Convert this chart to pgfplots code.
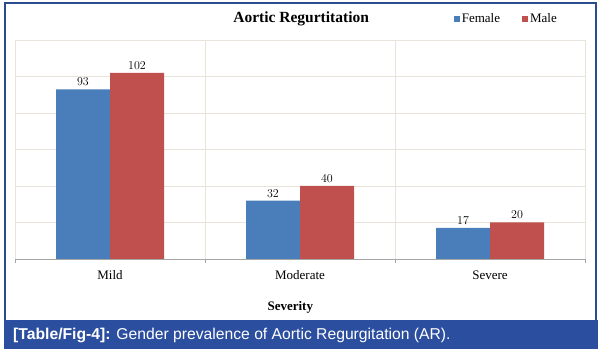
\documentclass[border=0pt]{standalone}
\usepackage{fontspec}
\setmainfont{Liberation Serif}
\setsansfont{Liberation Sans}
\usepackage{pgfplots}
\pgfplotsset{compat=1.18}
\definecolor{fem}{HTML}{4A7EBB}
\definecolor{mal}{HTML}{C0504D}
\definecolor{gridc}{HTML}{E8E4DA}
\definecolor{framec}{HTML}{2B4C8C}
\definecolor{capbar}{HTML}{2C4E9E}
\begin{document}
\begin{tikzpicture}[x=1pt,y=1pt]
\path[use as bounding box] (0,0) rectangle (601,355);
\draw[framec, line width=1.2pt] (5,35) -- (5,352) -- (596,352) -- (596,35);
\fill[capbar] (4,6) rectangle (598,35);
\node[anchor=west, text=white, inner sep=0pt, font=\sffamily\fontsize{15.7}{18}\selectfont] at (13,20) {\textbf{[Table/Fig-4]:} Gender prevalence of Aortic Regurgitation (AR).};
\begin{axis}[at={(15pt,96pt)}, anchor=south west, scale only axis, width=570pt, height=219pt,
  ybar=0pt, bar width=54pt, ymin=0, ymax=120, xmin=-0.5, xmax=2.5,
  xtick={0,1,2}, xticklabels={Mild,Moderate,Severe},
  minor xtick={-0.5,0.5,1.5,2.5}, xminorgrids,
  ytick={0,20,...,120}, yticklabels={}, ymajorgrids,
  axis x line*=bottom, axis y line*=left, y axis line style={draw=none},
  x axis line style={draw=gray!70, -}, axis line style={-},
  major tick length=0pt, minor tick length=4pt, tick align=outside,
  minor tick style={gray!70},
  grid style={gridc, line width=0.6pt},
  minor grid style={gridc, line width=0.6pt},
  ticklabel style={font=\fontsize{13}{15}\selectfont},
  xticklabel style={yshift=-8pt},
  xlabel={Severity},
  xlabel style={font=\bfseries\fontsize{13}{15}\selectfont, at={(axis description cs:0.483,-0.22)}, anchor=center},
  title={Aortic Regurtitation},
  title style={font=\bfseries\fontsize{15.5}{17}\selectfont, at={(axis description cs:0.502,1.07)}, anchor=center},
  nodes near coords,
  every node near coord/.append style={font=\fontsize{12.5}{14}\selectfont, black},
  legend style={at={(axis description cs:0.862,1.096)}, anchor=center, draw=none, fill=none,
    legend columns=2, font=\fontsize{13}{15}\selectfont,
    /tikz/every even column/.append style={column sep=20pt}},
  legend image code/.code={\draw[#1,draw=none] (0pt,-3pt) rectangle (6pt,3pt);},
  ]
\addplot[fill=fem, draw=none] coordinates {(0,93) (1,32) (2,17)};
\addplot[fill=mal, draw=none] coordinates {(0,102) (1,40) (2,20)};
\legend{Female, Male}
\end{axis}
\end{tikzpicture}
\end{document}
